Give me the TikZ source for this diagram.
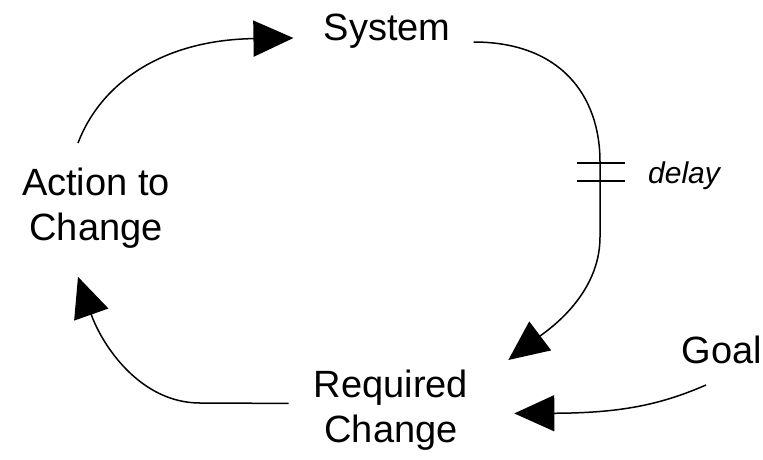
\documentclass[tikz,border=0pt]{standalone}
\usepackage{fontspec}
\setmainfont{Liberation Sans}
\usepackage{tikz}
\usetikzlibrary{arrows.meta,positioning,calc}

\begin{document}
\begin{tikzpicture}[
    x=1pt, y=-1pt,
    label/.style={inner sep=0pt, align=center, font=\fontsize{38}{45}\selectfont},
    delaytext/.style={inner sep=0pt, font=\fontsize{30}{34}\selectfont\itshape},
    link/.style={line width=1.5pt, -{Triangle[length=40pt,width=36pt]}},
    delaybar/.style={line width=2.6pt}
]
\useasboundingbox (0,0) rectangle (763,459);

% Variables
\node[label, anchor=base] (system) at (387,40) {System};
\node[label, anchor=north] (action) at (96,168) {Action to\\Change};
\node[label, anchor=north] (required) at (391,370) {Required\\Change};
\node[label, anchor=base] (goal) at (722,363) {Goal};

% Delay mark
\coordinate (delay) at (600,172);
\node[delaytext, anchor=base west] (delaylbl) at (648,183) {delay};

% Connections
\draw[link] ([shift={(-18,-25)}]action.north) .. controls (100,85) and (160,40) .. ([shift={(-30,-2)}]system.base west);
\draw[link] ([shift={(23,2)}]system.base east) .. controls (560,42) and (600,95) .. ([yshift=10pt]delay)
    -- ([yshift=-65pt]delay) .. controls (600,295) and (548,330) .. ([shift={(40,-10)}]required.north east);
\draw[link] ([shift={(-16,22)}]goal.base) .. controls (660,405) and (620,413) .. ([shift={(46,3)}]required.east);
\draw[link] ([shift={(-25,-7)}]required.west) -- (200,403) .. controls (140,403) and (102,345) .. ([shift={(-18,28)}]action.south);

% Delay bars
\draw[delaybar] ([shift={(-23,-9)}]delay) -- ([shift={(25,-9)}]delay);
\draw[delaybar] ([shift={(-23,9)}]delay) -- ([shift={(25,9)}]delay);

\end{tikzpicture}
\end{document}
